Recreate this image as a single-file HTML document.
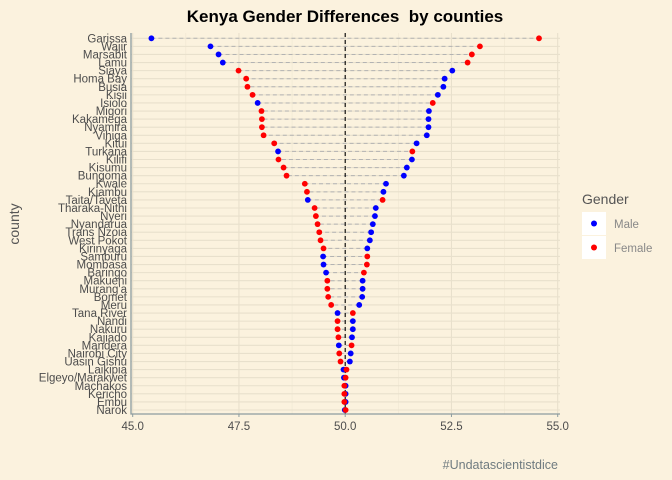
<!DOCTYPE html>
<html><head><meta charset="utf-8"><style>
body{margin:0;background:#fbf2de;}
svg{display:block;font-family:"Liberation Sans",Arial,sans-serif;}
</style></head><body>
<svg id="chart" width="672" height="480" viewBox="0 0 672 480">
<rect x="0" y="0" width="672" height="480" fill="#fbf2de"/>
<g id="grid"></g>
<g id="marks"></g>
<g id="axes"></g>
<text x="345" y="22" text-anchor="middle" font-size="17" font-weight="bold" fill="#000" xml:space="preserve">Kenya Gender Differences  by counties</text>
<text x="19" y="224" text-anchor="middle" font-size="14" fill="#555" transform="rotate(-90 19 224)">county</text>
<g>
<text x="582" y="204" font-size="14" fill="#555">Gender</text>
<rect x="582" y="212" width="24" height="23" fill="#fff"/>
<circle cx="594" cy="223.5" r="3" fill="#0000ff"/>
<text x="614" y="228" font-size="11.5" fill="#888">Male</text>
<rect x="582" y="236" width="24" height="23" fill="#fff"/>
<circle cx="594" cy="247.5" r="3" fill="#ff0000"/>
<text x="614" y="252" font-size="11.5" fill="#888">Female</text>
</g>
<text x="558" y="469" text-anchor="end" font-size="12.5" fill="#6f7b80">#Undatascientistdice</text>
</svg>
<script>
const counties=["Garissa","Wajir","Marsabit","Lamu","Siaya","Homa Bay","Busia","Kisii","Isiolo","Migori","Kakamega","Nyamira","Vihiga","Kitui","Turkana","Kilifi","Kisumu","Bungoma","Kwale","Kiambu","Taita/Taveta","Tharaka-Nithi","Nyeri","Nyandarua","Trans Nzoia","West Pokot","Kirinyaga","Samburu","Mombasa","Baringo","Makueni","Murang'a","Bomet","Meru","Tana River","Nandi","Nakuru","Kajiado","Mandera","Nairobi City","Uasin Gishu","Laikipia","Elgeyo/Marakwet","Machakos","Kericho","Embu","Narok"];
const male=[45.44,46.83,47.02,47.12,52.52,52.34,52.31,52.18,47.94,51.97,51.96,51.96,51.92,51.68,48.42,51.57,51.45,51.38,50.96,50.90,49.12,50.72,50.70,50.65,50.61,50.58,50.52,49.48,49.49,49.55,50.41,50.41,50.40,50.33,49.82,50.18,50.18,50.16,49.85,50.13,50.11,49.96,49.97,50.01,50.01,50.01,49.99];
const female=[54.56,53.17,52.98,52.88,47.49,47.67,47.70,47.82,52.06,48.03,48.04,48.04,48.08,48.33,51.58,48.43,48.55,48.62,49.05,49.10,50.88,49.28,49.31,49.35,49.39,49.42,49.49,50.52,50.51,50.44,49.58,49.58,49.60,49.67,50.18,49.82,49.82,49.84,50.15,49.86,49.89,50.03,50.01,49.98,49.98,49.98,50.01];
const xTicks=[45,47.5,50,52.5,55];
const xTickLabels=["45.0","47.5","50.0","52.5","55.0"];
const refLine=50;

const NS="http://www.w3.org/2000/svg";
const L=131,R=560,T=33,B=414,x0=45,x1=55;
const xs=v=>132.7+(v-x0)*(557.7-132.7)/(x1-x0);
const ys=i=>38.3+i*(410-38.3)/(counties.length-1);
function mk(tag,attrs,parent){const e=document.createElementNS(NS,tag);for(const k in attrs)e.setAttribute(k,attrs[k]);parent.appendChild(e);return e;}
const grid=document.getElementById('grid'),marks=document.getElementById('marks'),axes=document.getElementById('axes');
let p=mk('rect',{x:L,y:T,width:R-L,height:B-T,fill:'#fbf2de'},grid);


for(let k=0;k<xTicks.length-1;k++){const m=(xTicks[k]+xTicks[k+1])/2;
 let g=mk('line',{x1:xs(m),x2:xs(m),y1:T,y2:B,stroke:'#efe6d2','stroke-width':0.6},grid);
 
 }
xTicks.forEach(t=>{let g=mk('line',{x1:xs(t),x2:xs(t),y1:T,y2:B,stroke:'#e8e0cc','stroke-width':1.1},grid);
 
 });
counties.forEach((c,i)=>{let g=mk('line',{x1:L,x2:R,y1:ys(i),y2:ys(i),stroke:'#e8e0cc','stroke-width':1.1},grid);
 
 });
counties.forEach((c,i)=>{
 let s=mk('line',{x1:xs(male[i]),x2:xs(female[i]),y1:ys(i),y2:ys(i),stroke:'#b3b3b3','stroke-width':1,'stroke-dasharray':'4,3'},marks);
 
 });
let rl=mk('line',{x1:xs(refLine),x2:xs(refLine),y1:T,y2:B,stroke:'#000','stroke-width':1.1,'stroke-dasharray':'4,3'},marks);


counties.forEach((c,i)=>{
 let m=mk('circle',{cx:xs(male[i]),cy:ys(i),r:2.9,fill:'#0000ff'},marks);
 
 
 let f=mk('circle',{cx:xs(female[i]),cy:ys(i),r:2.9,fill:'#ff0000'},marks);
 
 
 let t=mk('text',{x:L-4,y:ys(i)+4,'text-anchor':'end','font-size':11.5,fill:'#4d4d4d'},axes);
 t.textContent=c;
 
 });
let ax=mk('polyline',{points:`${L},${T} ${L},${B} ${R},${B}`,fill:'none',stroke:'#8c9ca0','stroke-width':1.3},axes);


xTicks.forEach((t,k)=>{
 let tk=mk('line',{x1:xs(t),x2:xs(t),y1:B,y2:B+3,stroke:'#8c9ca0'},axes);
 
 
 let lb=mk('text',{x:xs(t),y:B+16,'text-anchor':'middle','font-size':11.5,fill:'#4d4d4d'},axes);
 lb.textContent=xTickLabels[k];
 
 });
</script>
</body></html>
